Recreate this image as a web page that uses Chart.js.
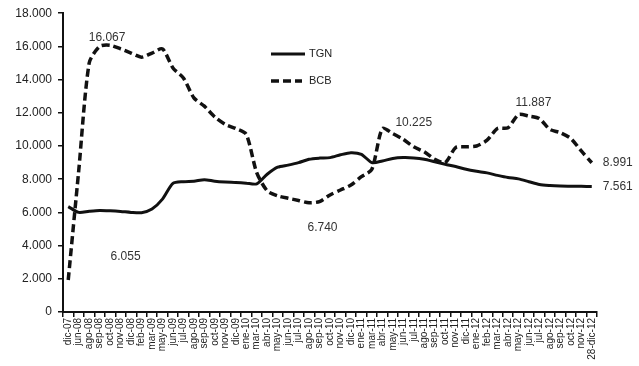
<!DOCTYPE html>
<html>
<head>
<meta charset="utf-8">
<script src="https://cdn.jsdelivr.net/npm/chart.js@4/dist/chart.umd.min.js"></script>
<style>
  html,body{margin:0;padding:0;background:#fff;}
  #wrap{width:639px;height:366px;position:relative;}
</style>
</head>
<body>
<div id="wrap"><canvas id="c"></canvas></div>
<script>
/* ---------- datos ---------- */
const MESES = ['dic-07','jun-08','ago-08','sep-08','oct-08','nov-08','dic-08','feb-09','mar-09','may-09',
  'jun-09','jul-09','ago-09','sep-09','oct-09','nov-09','dic-09','ene-10','mar-10','abr-10',
  'may-10','jun-10','jul-10','ago-10','sep-10','oct-10','nov-10','dic-10','ene-11','mar-11',
  'abr-11','may-11','jun-11','jul-11','ago-11','sep-11','oct-11','nov-11','dic-11','ene-12',
  'feb-12','mar-12','abr-12','may-12','jun-12','jul-12','ago-12','sep-12','oct-12','nov-12','28-dic-12'];

const TGN = [6350,6000,6070,6120,6100,6060,6000,5980,6200,6800,
  7750,7850,7880,7970,7880,7830,7800,7760,7720,8300,
  8720,8850,9000,9200,9270,9300,9470,9600,9500,9000,
  9100,9250,9300,9280,9200,9050,8900,8760,8600,8480,
  8380,8230,8100,8020,7850,7680,7620,7590,7580,7570,7561];

const BCB = [1930,8500,15000,16000,16067,15850,15600,15350,15600,15850,
  14700,14100,12900,12400,11750,11300,11050,10700,8400,7300,
  7000,6850,6720,6580,6650,7050,7350,7650,8150,8600,
  11050,10750,10400,9950,9650,9200,9000,9900,9950,10000,
  10350,11050,11100,11887,11800,11650,11000,10800,10450,9700,8991];

const Y_TICKS = [0,2000,4000,6000,8000,10000,12000,14000,16000,18000];

const NOTA_TEXTO = ['16.067','6.055','6.740','10.225','11.887','8.991','7.561'];
const NOTA_SERIE = [1,0,1,1,1,1,0];
const NOTA_IDX   = [4,5,24,33,43,50,50];

/* ---------- helpers ---------- */
const fmt = v => String(v).replace(/\B(?=(\d{3})+(?!\d))/g,'.');
const FONT = 'Liberation Sans, Arial, sans-serif';

// desplazamientos de las notas (px) y alineación
const NOTA_POS = [[-3,-8,'center'],[5,45,'center'],[3,26,'center'],[0,-24,'center'],
                  [15,-12,'center'],[11,0,'left'],[11,0,'left']];

const extras = {
  id:'extras',
  afterDatasetsDraw(chart){
    const {ctx, scales:{x,y}} = chart;
    ctx.save();
    // notas
    ctx.fillStyle = '#333';
    ctx.font = '12px ' + FONT;
    ctx.textBaseline = 'middle';
    NOTA_TEXTO.forEach((t,k)=>{
      const ds = chart.data.datasets[NOTA_SERIE[k]];
      const px = x.getPixelForValue(NOTA_IDX[k]);
      const py = y.getPixelForValue(ds.data[NOTA_IDX[k]]);
      const [dx,dy,al] = NOTA_POS[k];
      ctx.textAlign = al;
      ctx.fillText(t, px+dx, py+dy);
    });
    // leyenda dentro del área
    chart.data.datasets.forEach((ds,k)=>{
      const ly = 54 + k*27;
      ctx.strokeStyle = ds.borderColor;
      ctx.lineWidth = ds.borderWidth;
      ctx.setLineDash(ds.borderDash || []);
      ctx.beginPath(); ctx.moveTo(271,ly); ctx.lineTo(k? 302:305,ly); ctx.stroke();
      ctx.setLineDash([]);
      ctx.fillStyle = '#222';
      ctx.font = '11px ' + FONT;
      ctx.textAlign = 'left';
      ctx.fillText(ds.label, 309, ly);
    });
    ctx.restore();
  }
};

new Chart(document.getElementById('c'),{
  type:'line',
  data:{
    labels:MESES,
    datasets:[
      {label:'TGN', data:TGN, borderColor:'#111', borderWidth:3, pointRadius:0, tension:0.25, fill:false},
      {label:'BCB', data:BCB, borderColor:'#111', borderWidth:3.5, borderDash:[8,4], pointRadius:0, tension:0.25, fill:false}
    ]
  },
  options:{
    responsive:true, maintainAspectRatio:false, animation:false,
    layout:{padding:{top:13,right:42,left:0,bottom:0}},
    plugins:{legend:{display:false}, tooltip:{enabled:false}},
    scales:{
      x:{
        offset:true,
        grid:{offset:true, drawOnChartArea:false, drawTicks:true, tickLength:5, color:'#111', lineWidth:1.5},
        border:{display:true, color:'#111', width:2},
        ticks:{autoSkip:false, maxRotation:90, minRotation:90, padding:1, color:'#222',
               font:{family:FONT, size:10}},
        afterFit(s){ s.height = 54; }
      },
      y:{
        min:0, max:18000,
        afterBuildTicks(s){ s.ticks = Y_TICKS.map(v=>({value:v})); },
        grid:{drawOnChartArea:false, drawTicks:true, tickLength:5, color:'#111', lineWidth:1.5},
        border:{display:true, color:'#111', width:2},
        ticks:{padding:6, color:'#222', font:{family:FONT, size:12}, callback:v=>fmt(v)},
        afterFit(s){ s.width = 63; }
      }
    }
  },
  plugins:[extras]
});
</script>
</body>
</html>
